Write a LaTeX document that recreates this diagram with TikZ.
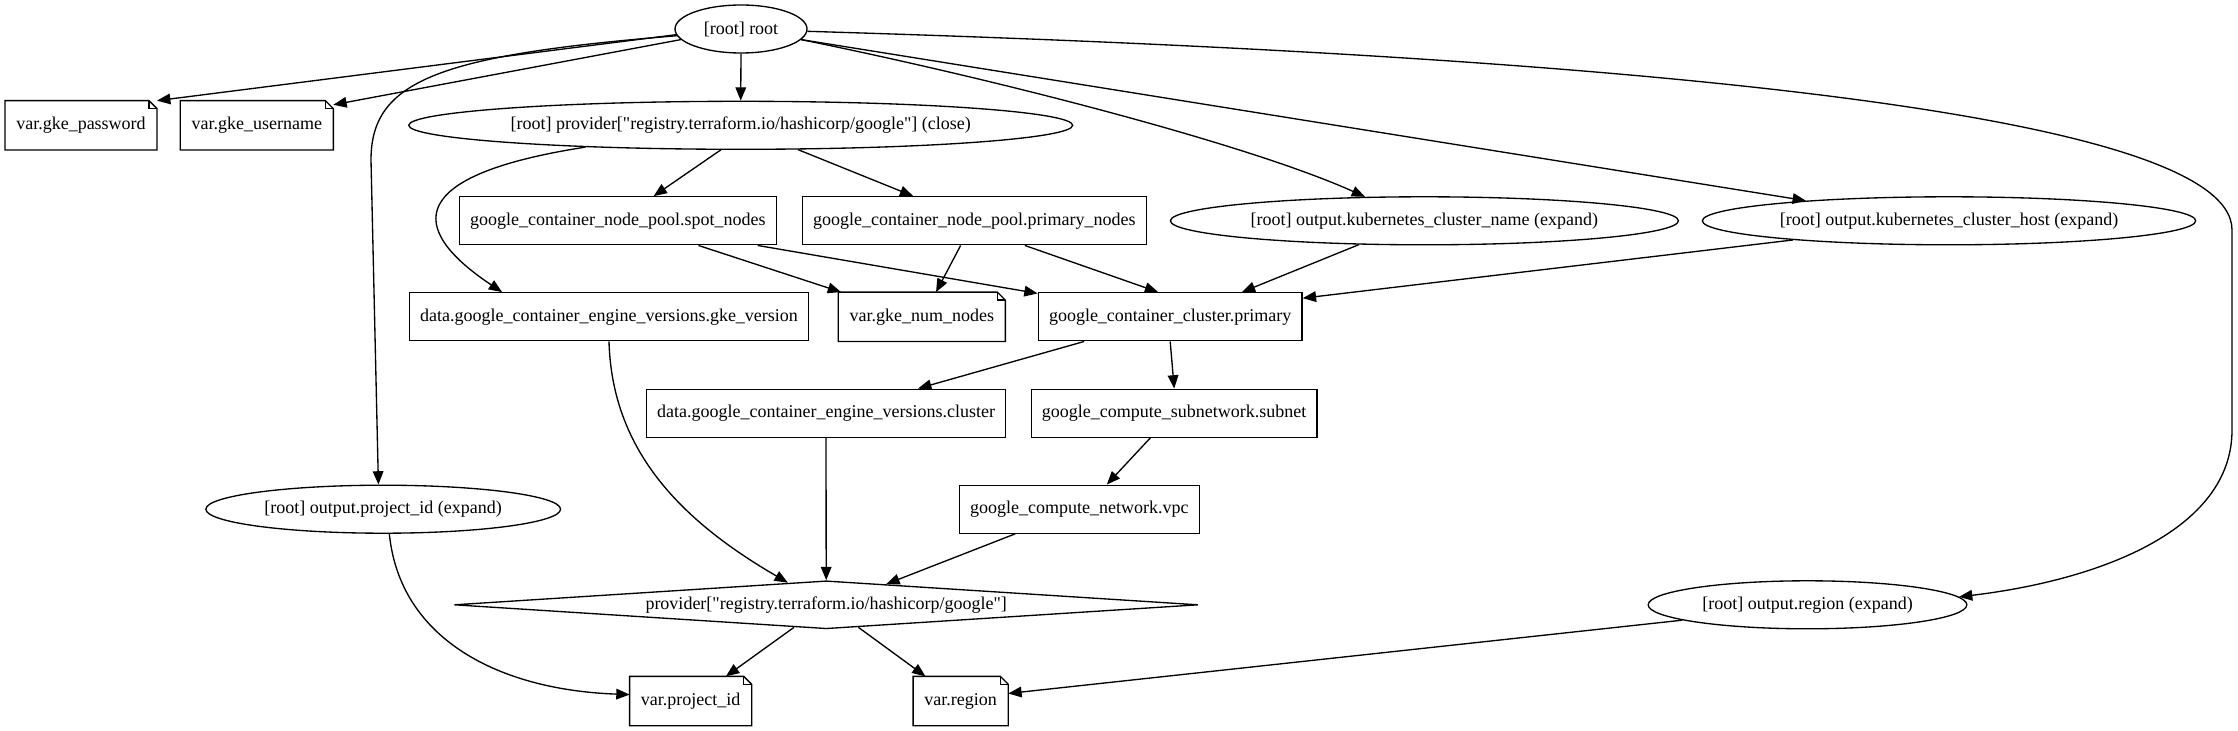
\documentclass[tikz,border=0pt]{standalone}
\usepackage{fontspec}
\setmainfont{Liberation Serif}
\usetikzlibrary{shapes.geometric}
\usetikzlibrary{arrows.meta}

\tikzset{
  box/.style={draw, rectangle, minimum height=36pt, inner xsep=8pt, inner ysep=0pt},
  oval/.style={draw, ellipse, minimum height=36pt, inner xsep=1pt, inner ysep=0pt},
  prov/.style={draw, diamond, aspect=15.5, inner sep=0pt, minimum width=558pt, minimum height=36pt},
  notebox/.style={rectangle, minimum height=36pt, inner xsep=8pt, inner ysep=0pt,
    append after command={\pgfextra{
      \draw (\tikzlastnode.south west) -- (\tikzlastnode.north west)
        -- ([xshift=-6pt]\tikzlastnode.north east) -- ([yshift=-6pt]\tikzlastnode.north east)
        -- (\tikzlastnode.south east) -- cycle;
      \draw ([xshift=-6pt]\tikzlastnode.north east) |- ([yshift=-6pt]\tikzlastnode.north east);
    }}},
  dep/.style={-{Triangle[length=10pt,width=8pt]}},
}

\begin{document}
\begin{tikzpicture}[x=0.75pt, y=-0.75pt, line width=1pt, font=\fontsize{13.5}{16}\selectfont]
\useasboundingbox (0,0) rectangle (2238,731);

% nodes, one row per rank
\node[oval, minimum width=99pt] (root) at (741,29) {[root] root};

\node[notebox] (gkepass) at (81,125.3) {var.gke\_password};
\node[notebox] (gkeuser) at (256.8,125.3) {var.gke\_username};
\node[oval, minimum width=498pt] (provclose) at (740.7,125.3) {[root] provider[\textquotedbl registry.terraform.io/hashicorp/google\textquotedbl] (close)};

\node[box] (spot) at (617.8,220.8) {google\_container\_node\_pool.spot\_nodes};
\node[box] (primarypool) at (974.3,220.8) {google\_container\_node\_pool.primary\_nodes};
\node[oval, minimum width=381pt] (clname) at (1424.4,220.8) {[root] output.kubernetes\_cluster\_name (expand)};
\node[oval, minimum width=370pt] (clhost) at (1949,220.8) {[root] output.kubernetes\_cluster\_host (expand)};

\node[box] (gkever) at (609,316.8) {data.google\_container\_engine\_versions.gke\_version};
\node[notebox] (numnodes) at (921.8,316.8) {var.gke\_num\_nodes};
\node[box] (cluster) at (1170.2,316.8) {google\_container\_cluster.primary};

\node[box] (engver) at (826,413.2) {data.google\_container\_engine\_versions.cluster};
\node[box] (subnet) at (1174.2,413.2) {google\_compute\_subnetwork.subnet};

\node[oval, minimum width=266pt] (projout) at (383.2,509.2) {[root] output.project\_id (expand)};
\node[box] (vpc) at (1079.4,509.2) {google\_compute\_network.vpc};

\node[prov] (provider) at (826.2,604.8) {provider[\textquotedbl registry.terraform.io/hashicorp/google\textquotedbl]};
\node[oval, minimum width=239pt] (regout) at (1807.5,604.8) {[root] output.region (expand)};

\node[notebox] (projvar) at (690.7,701) {var.project\_id};
\node[notebox] (regvar) at (960.7,701) {var.region};

% edges
\draw[dep] (root.185) -- (gkepass.north east);
\draw[dep] (root.190) -- (gkeuser.15);
\draw[dep] (root.south) -- (provclose.north);
\draw[dep] (root.186) .. controls (440,55) and (371,80) .. (371,160) -- (projout.101);
\draw[dep] (root.350) .. controls (1000,80) and (1250,145) .. (clname.158);
\draw[dep] (root.350) -- (clhost.172);
\draw[dep] (root.358) .. controls (1600,55) and (2232,110) .. (2232,230) -- (2232,430)
  .. controls (2232,530) and (2100,580) .. (regout.3);

\draw[dep] (provclose.188) .. controls (406,175) and (406,228) .. (gkever.167);
\draw[dep] (provclose.231) -- (spot);
\draw[dep] (provclose.337) -- (primarypool);

\draw[dep] (spot.343) -- (numnodes.163);
\draw[dep] (spot.350) -- (cluster.170);
\draw[dep] (primarypool.241) -- (numnodes.60);
\draw[dep] (primarypool.334) -- (cluster.116);
\draw[dep] (clname.200) -- (cluster.19);
\draw[dep] (clhost.187) -- (cluster.8);

\draw[dep] (cluster.196) -- (engver.15);
\draw[dep] (cluster.south) -- (subnet.north);
\draw[dep] (subnet.226) -- (vpc.42);

\draw[dep] (gkever.south) .. controls (612,450) and (680,520) .. (provider.150);
\draw[dep] (engver.south) -- (provider.north);
\draw[dep] (vpc.201) -- (provider.19);

\draw[dep] (projout.284) .. controls (400,640) and (500,690) .. (projvar.174);
\draw[dep] (provider.215) -- (projvar.35);
\draw[dep] (provider.325) -- (regvar.145);
\draw[dep] (regout.187) -- (regvar.9);
\end{tikzpicture}
\end{document}
